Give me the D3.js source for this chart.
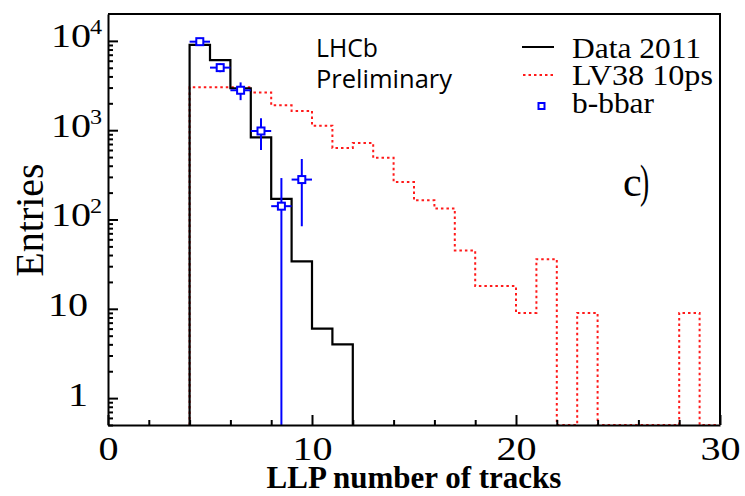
<!DOCTYPE html>
<html>
<head>
<meta charset="utf-8">
<script src="https://cdn.jsdelivr.net/npm/d3@7"></script>
<style>
  html, body { margin: 0; padding: 0; background: #fff; }
  svg { display: block; }
</style>
</head>
<body>
<svg id="chart" width="745" height="496"></svg>
<script>
// ---------------- data ----------------
const xTickMajor = [0, 10, 20, 30];
const xTickMinor = [2, 4, 6, 8, 12, 14, 16, 18, 22, 24, 26, 28];
const yTickMajor = [1, 10, 100, 1000, 10000];
const yTickLabels = ["1", "10", "10^2", "10^3", "10^4"];

// Data 2011 histogram (bin low edges, width 1)
const dataBins = [4, 5, 6, 7, 8, 9, 10, 11];
const dataValues = [9000, 6100, 2950, 830, 170, 34, 6, 4];

// LV38 10ps histogram
const lvBins = [4, 5, 6, 7, 8, 9, 10, 11, 12, 13, 14, 15, 16, 17, 18, 19, 20, 21, 22, 23, 24, 25, 26, 27, 28, 29];
const lvValues = [3030, 3030, 3030, 2640, 1900, 1645, 1120, 632, 720, 490, 263, 164, 133, 45, 18, 18, 9, 36, 0, 9, 0, 0, 0, 0, 9, 0];

// b-bbar points
const bbX = [4.5, 5.5, 6.5, 7.5, 8.5, 9.5];
const bbY = [9800, 5020, 2800, 980, 141, 280];
const bbErr = [1000, 560, 630, 380, 150, 196];

const legendLabels = ["Data 2011", "LV38 10ps", "b-bbar"];
const legendWidths = [129, 141, 82];

// ---------------- drawing ----------------
const svg = d3.select("#chart");
const serif = "'Liberation Serif', 'Times New Roman', serif";

const x = d3.scaleLinear().domain([0, 30]).range([108, 720]);
const yMin = 0.5, yMax = 2e4;
const y = d3.scaleLog().domain([yMin, yMax]).range([425, 14]);

const [x0, x1] = x.range();
const [yb, yt] = y.range();

// frame (top + right)
svg.append("path")
  .attr("d", `M${x0},${yt}H${x1}V${yb}`)
  .attr("fill", "none").attr("stroke", "#000").attr("stroke-width", 2);

// histogram path builder
function histPath(bins, vals) {
  const pts = [];
  pts.push([x(bins[0]), y(yMin)]);
  bins.forEach((b, i) => {
    const v = vals[i] > 0 ? vals[i] : yMin;
    pts.push([x(b), y(v)]);
    pts.push([x(b + 1), y(v)]);
  });
  pts.push([x(bins[bins.length - 1] + 1), y(yMin)]);
  return d3.line()(pts);
}

// LV38 (red dotted)
svg.append("path")
  .attr("d", histPath(lvBins, lvValues))
  .attr("fill", "none").attr("stroke", "#ff1a1a").attr("stroke-width", 2)
  .attr("stroke-dasharray", "2.5,3");

// Data 2011 (black)
svg.append("path")
  .attr("d", histPath(dataBins, dataValues))
  .attr("fill", "none").attr("stroke", "#000").attr("stroke-width", 2.2);

// b-bbar points with error bars
const blue = "#0000ff";
const gB = svg.append("g");
bbX.forEach((xv, i) => {
  const cy = y(bbY[i]);
  const lo = Math.max(bbY[i] - bbErr[i], yMin);
  gB.append("line")
    .attr("x1", x(xv - 0.5)).attr("x2", x(xv + 0.5))
    .attr("y1", cy).attr("y2", cy)
    .attr("stroke", blue).attr("stroke-width", 2);
  gB.append("line")
    .attr("x1", x(xv)).attr("x2", x(xv))
    .attr("y1", y(bbY[i] + bbErr[i])).attr("y2", y(lo))
    .attr("stroke", blue).attr("stroke-width", 2);
  gB.append("rect")
    .attr("x", x(xv) - 3.5).attr("y", cy - 3.5)
    .attr("width", 7).attr("height", 7)
    .attr("fill", "#fff").attr("stroke", blue).attr("stroke-width", 2);
});

// ---- X axis ----
const gx = svg.append("g").attr("transform", `translate(0,${yb})`);
gx.call(d3.axisBottom(x).tickValues(xTickMajor).tickSize(-10).tickSizeOuter(0).tickPadding(11)
  .tickFormat(d3.format("d")));
const gxm = svg.append("g").attr("transform", `translate(0,${yb})`);
gxm.call(d3.axisBottom(x).tickValues(xTickMinor).tickSize(-5).tickSizeOuter(0).tickFormat(""));
gxm.select(".domain").remove();
[gx, gxm].forEach(g => {
  g.selectAll("line").attr("stroke", "#000").attr("stroke-width", 2);
  g.select(".domain").attr("stroke", "#000").attr("stroke-width", 2);
});
gx.selectAll("text").attr("font-family", serif).attr("font-size", 34).attr("fill", "#000")
  .attr("transform", "scale(1.18,1)");

// ---- Y axis ----
const gy = svg.append("g").attr("transform", `translate(${x0},0)`);
gy.call(d3.axisLeft(y).tickValues(yTickMajor).tickSize(-10).tickSizeOuter(0).tickFormat(""));
const yMinor = [];
[0.1, 1, 10, 100, 1000, 10000].forEach(dec => {
  for (let k = 2; k <= 9; k++) {
    const v = dec * k;
    if (v >= yMin && v < yMax) yMinor.push(v);
  }
});
const gym = svg.append("g").attr("transform", `translate(${x0},0)`);
gym.call(d3.axisLeft(y).tickValues(yMinor).tickSize(-5).tickSizeOuter(0).tickFormat(""));
gym.select(".domain").remove();
[gy, gym].forEach(g => {
  g.selectAll("line").attr("stroke", "#000").attr("stroke-width", 2);
  g.select(".domain").attr("stroke", "#000").attr("stroke-width", 2);
});
gy.selectAll(".tick").each(function(d, i) {
  const lab = yTickLabels[i];
  const t = d3.select(this);
  if (lab.includes("^")) {
    const [base, exp] = lab.split("^");
    t.append("text").attr("x", 0).attr("y", 6)
      .attr("transform", "translate(-17,0) scale(1.18,1)")
      .attr("text-anchor", "end").attr("font-family", serif).attr("font-size", 34).attr("fill", "#000")
      .text(base);
    t.append("text").attr("x", 0).attr("y", -7)
      .attr("transform", "translate(-18,0) scale(1.15,1)")
      .attr("text-anchor", "start").attr("font-family", serif).attr("font-size", 21).attr("fill", "#000")
      .text(exp);
  } else {
    t.append("text").attr("x", 0).attr("y", 7)
      .attr("transform", "translate(-20,0) scale(1.18,1)")
      .attr("text-anchor", "end").attr("font-family", serif).attr("font-size", 34).attr("fill", "#000")
      .text(lab);
  }
});

// ---- axis titles ----
svg.append("text")
  .attr("x", (x0 + x1) / 2).attr("y", 488)
  .attr("text-anchor", "middle").attr("font-family", serif).attr("font-weight", "bold")
  .attr("font-size", 31).attr("fill", "#000")
  .text("LLP number of tracks");
svg.append("text")
  .attr("transform", `translate(43,220) rotate(-90)`)
  .attr("text-anchor", "middle").attr("font-family", serif)
  .attr("font-size", 40).attr("fill", "#000")
  .text("Entries");

// ---- legend ----
const lg = svg.append("g");
const rowY = [47, 75, 106];
const textY = [58, 85, 113];
lg.append("line").attr("x1", 522).attr("x2", 554).attr("y1", rowY[0]).attr("y2", rowY[0])
  .attr("stroke", "#000").attr("stroke-width", 2);
lg.append("line").attr("x1", 523).attr("x2", 554).attr("y1", rowY[1]).attr("y2", rowY[1])
  .attr("stroke", "#ff1a1a").attr("stroke-width", 2).attr("stroke-dasharray", "2.5,3");
lg.append("rect").attr("x", 538.5).attr("y", rowY[2] - 3).attr("width", 6).attr("height", 6)
  .attr("fill", "#fff").attr("stroke", blue).attr("stroke-width", 2);
legendLabels.forEach((l, i) => {
  lg.append("text").attr("x", 572).attr("y", textY[i])
    .attr("textLength", legendWidths[i]).attr("lengthAdjust", "spacingAndGlyphs")
    .attr("font-family", serif).attr("font-size", 30).attr("fill", "#000").text(l);
});

// ---- annotations ----
const sans = "'Open Sans', 'Noto Sans', sans-serif";
svg.append("text").attr("x", 316).attr("y", 56.5)
  .attr("textLength", 62).attr("lengthAdjust", "spacingAndGlyphs")
  .attr("font-family", sans).attr("font-size", 25).attr("fill", "#000").text("LHCb");
svg.append("text").attr("x", 316).attr("y", 88)
  .attr("textLength", 136).attr("lengthAdjust", "spacingAndGlyphs")
  .attr("font-family", sans).attr("font-size", 25).attr("fill", "#000").text("Preliminary");

svg.append("text").attr("x", 623).attr("y", 196)
  .attr("font-family", serif).attr("font-size", 42).attr("fill", "#000").text("c");
svg.append("text").attr("x", 640).attr("y", 197)
  .attr("font-family", serif).attr("font-size", 46).attr("fill", "#000")
  .attr("transform", "translate(640,0) scale(0.6,1) translate(-640,0)")
  .text(")");
</script>
</body>
</html>
